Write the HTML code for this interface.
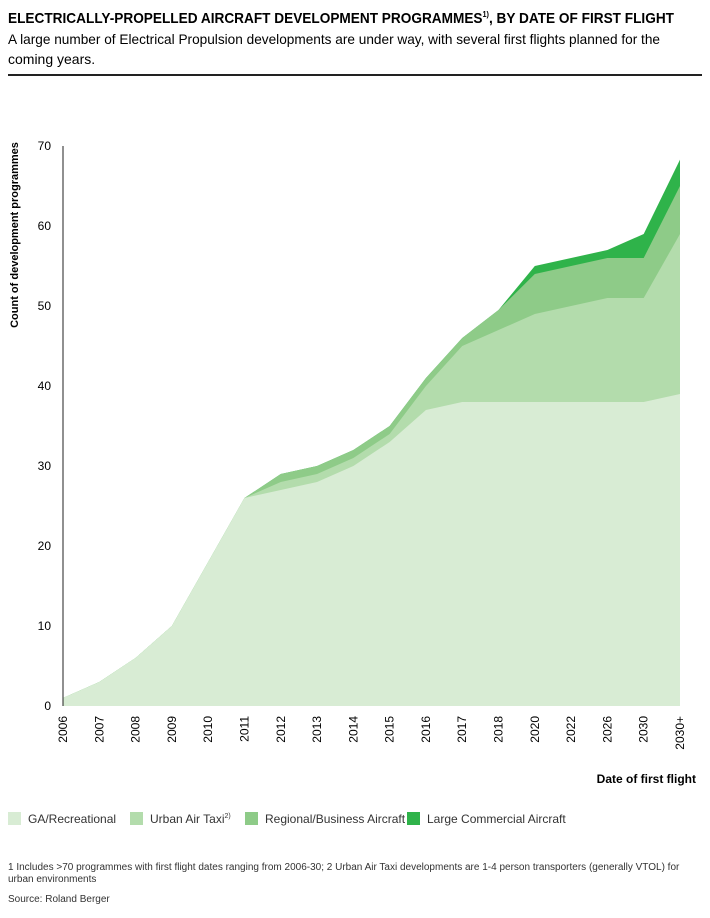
<!DOCTYPE html><html><head><style>
body{margin:0;width:710px;height:913px;background:#fff;font-family:"Liberation Sans",sans-serif;color:#111;overflow:hidden}
</style></head><body>
<svg width="710" height="913" xmlns="http://www.w3.org/2000/svg" font-family="Liberation Sans, sans-serif">
<text x="8" y="23" font-size="15" font-weight="bold" textLength="666" lengthAdjust="spacingAndGlyphs">ELECTRICALLY-PROPELLED AIRCRAFT DEVELOPMENT PROGRAMMES<tspan font-size="8" dy="-6">1)</tspan><tspan dy="6">, BY DATE OF FIRST FLIGHT</tspan></text>
<text x="8" y="44" font-size="14" textLength="652" lengthAdjust="spacingAndGlyphs">A large number of Electrical Propulsion developments are under way, with several first flights planned for the</text>
<text x="8" y="64" font-size="14">coming years.</text>
<rect x="8" y="74" width="694" height="2" fill="#222"/>
<g id="plot"></g>
<line x1="63" y1="146" x2="63" y2="706" stroke="#222" stroke-width="1"/>
<g font-size="12" text-anchor="end">
<text x="51" y="710">0</text><text x="51" y="630">10</text><text x="51" y="550">20</text><text x="51" y="470">30</text><text x="51" y="390">40</text><text x="51" y="310">50</text><text x="51" y="230">60</text><text x="51" y="150">70</text>
</g>
<text transform="translate(18,235) rotate(-90)" font-size="11" font-weight="bold" text-anchor="middle">Count of development programmes</text>
<g id="xt" font-size="12"></g>
<text x="696" y="783" font-size="12" font-weight="bold" text-anchor="end">Date of first flight</text>
<g font-size="12" fill="#333">
<rect x="8" y="812" width="13" height="13" fill="#d8ecd4"/><text x="28" y="823">GA/Recreational</text>
<rect x="130" y="812" width="13" height="13" fill="#b3dcac"/><text x="150" y="823">Urban Air Taxi<tspan font-size="7" dy="-5">2)</tspan></text>
<rect x="245" y="812" width="13" height="13" fill="#8ecb88"/><text x="265" y="823">Regional/Business Aircraft</text>
<rect x="407" y="812" width="13" height="13" fill="#2fb34a"/><text x="427" y="823">Large Commercial Aircraft</text>
</g>
<g font-size="10" fill="#333">
<text x="8" y="870">1 Includes &gt;70 programmes with first flight dates ranging from 2006-30; 2 Urban Air Taxi developments are 1-4 person transporters (generally VTOL) for</text>
<text x="8" y="882">urban environments</text>
<text x="8" y="902">Source: Roland Berger</text>
</g>
</svg>
<script>
const L=["2006","2007","2008","2009","2010","2011","2012","2013","2014","2015","2016","2017","2018","2020","2022","2026","2030","2030+"];
const N=L.length,X=i=>63+i*(680-63)/(N-1),Y=v=>706-8*v;
const ga=[1,3,6,10,18,26,27,28,30,33,37,38,38,38,38,38,38,39];
const ut=[1,3,6,10,18,26,28,29,31,34,40,45,47,49,50,51,51,59];
const rg=[1,3,6,10,18,26,29,30,32,35,41,46,49.5,54,55,56,56,65];
const lc=[1,3,6,10,18,26,29,30,32,35,41,46,49.5,55,56,57,59,68.3];
const cols=["#2fb34a","#8ecb88","#b3dcac","#d8ecd4"];
let s="";
[lc,rg,ut,ga].forEach((d,k)=>{let p=d.map((v,i)=>X(i)+","+Y(v)).join(" ");p+=` ${X(N-1)},706 63,706`;s+=`<polygon points="${p}" fill="${cols[k]}"/>`});
document.getElementById("plot").innerHTML=s;
let t="";L.forEach((l,i)=>{t+=`<text transform="translate(${X(i)+4},716) rotate(-90)" text-anchor="end">${l}</text>`});
document.getElementById("xt").innerHTML=t;
</script>
</body></html>
